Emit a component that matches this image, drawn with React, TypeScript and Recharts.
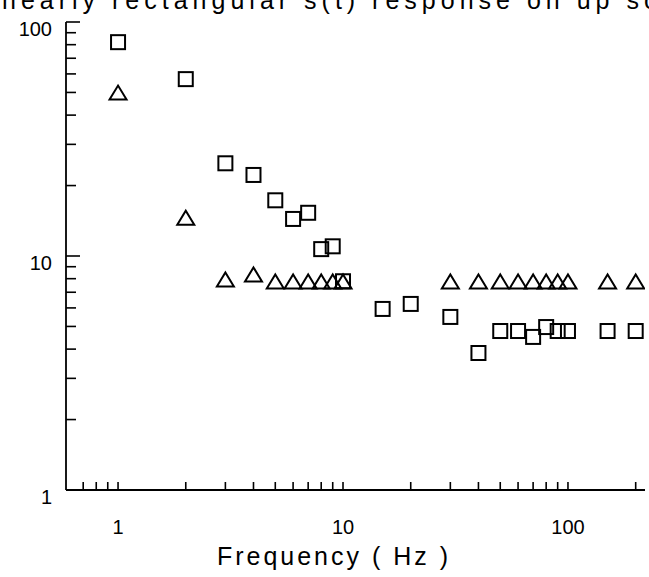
import React from 'react';
import { ScatterChart, Scatter, XAxis, YAxis } from 'recharts';

const FREQ_SQUARE = [1, 2, 3, 4, 5, 6, 7, 8, 9, 10, 15, 20, 30, 40, 50, 60, 70, 80, 90, 100, 150, 200];
const SQUARE_VALUES = [82, 57, 24.9, 22.2, 17.3, 14.4, 15.3, 10.7, 11.0, 7.8, 5.94, 6.24, 5.49, 3.85, 4.78, 4.78, 4.51, 4.97, 4.78, 4.78, 4.78, 4.78];

const FREQ_TRIANGLE = [1, 2, 3, 4, 5, 6, 7, 8, 9, 10, 30, 40, 50, 60, 70, 80, 90, 100, 150, 200];
const TRIANGLE_VALUES = [49.7, 14.5, 7.9, 8.3, 7.74, 7.74, 7.74, 7.74, 7.74, 7.74, 7.74, 7.74, 7.74, 7.74, 7.74, 7.74, 7.74, 7.74, 7.74, 7.74];

const X_TICKS = [0.7, 0.8, 0.9, 1, 2, 3, 4, 5, 6, 7, 8, 9, 10, 20, 30, 40, 50, 60, 70, 80, 90, 100, 200];
const Y_TICKS = [1, 2, 3, 4, 5, 6, 7, 8, 9, 10, 20, 30, 40, 50, 60, 70, 80, 90, 100];
const LABELED = [1, 10, 100];

const squares = FREQ_SQUARE.map((f, i) => ({ x: f, y: SQUARE_VALUES[i] }));
const triangles = FREQ_TRIANGLE.map((f, i) => ({ x: f, y: TRIANGLE_VALUES[i] }));

const FONT = '"Liberation Sans", Arial, sans-serif';

const XTick = (props: any) => {
  const { x, y, payload } = props;
  const v = payload.value;
  return (
    <g>
      <line x1={x} y1={y} x2={x} y2={y - 8} stroke="#000" strokeWidth={1.6} />
      {LABELED.includes(v) && (
        <text x={x} y={y + 44} textAnchor="middle" fontFamily={FONT} fontSize={20} fill="#000">
          {v}
        </text>
      )}
    </g>
  );
};

const YTick = (props: any) => {
  const { x, y, payload } = props;
  const v = payload.value;
  const major = LABELED.includes(v);
  return (
    <g>
      <line x1={x} y1={y} x2={x + (major ? 14 : 10)} y2={y} stroke="#000" strokeWidth={1.6} />
      {major && (
        <text x={x - 14} y={y + 14} textAnchor="end" fontFamily={FONT} fontSize={20} fill="#000">
          {v}
        </text>
      )}
    </g>
  );
};

const Square = (props: any) => {
  const { cx, cy } = props;
  return <rect x={cx - 7} y={cy - 7} width={14} height={14} fill="none" stroke="#000" strokeWidth={2} />;
};

const Triangle = (props: any) => {
  const { cx, cy } = props;
  const pts = `${cx - 8.5},${cy + 6.5} ${cx + 8.5},${cy + 6.5} ${cx},${cy - 7.5}`;
  return <polygon points={pts} fill="none" stroke="#000" strokeWidth={2} strokeLinejoin="miter" />;
};

export default function App() {
  return (
    <div style={{ position: 'absolute', left: 0, top: 0, width: 649, height: 577, background: '#fff', overflow: 'hidden' }}>
      <div
        style={{
          position: 'absolute',
          left: 2,
          top: -12,
          whiteSpace: 'nowrap',
          fontFamily: FONT,
          fontSize: 25,
          lineHeight: '24px',
          letterSpacing: 5,
          color: '#000',
        }}
      >
        nearly rectangular s(t) response on up so
      </div>
      <ScatterChart width={649} height={577} margin={{ top: 22, right: 4, bottom: 7, left: 6 }}>
        <XAxis
          type="number"
          dataKey="x"
          scale="log"
          domain={[0.587, 220]}
          allowDataOverflow
          ticks={X_TICKS}
          interval={0}
          tick={<XTick />}
          tickLine={false}
          tickSize={0}
          tickMargin={0}
          height={80}
          axisLine={{ stroke: '#000', strokeWidth: 1.8 }}
        />
        <YAxis
          type="number"
          dataKey="y"
          scale="log"
          domain={[1, 100]}
          allowDataOverflow
          ticks={Y_TICKS}
          interval={0}
          tick={<YTick />}
          tickLine={false}
          tickSize={0}
          tickMargin={0}
          width={60}
          axisLine={{ stroke: '#000', strokeWidth: 1.8 }}
        />
        <Scatter data={squares} shape={<Square />} isAnimationActive={false} />
        <Scatter data={triangles} shape={<Triangle />} isAnimationActive={false} />
      </ScatterChart>
      <div
        style={{
          position: 'absolute',
          left: 0,
          width: 668,
          top: 542,
          textAlign: 'center',
          fontFamily: FONT,
          fontSize: 25,
          letterSpacing: 3,
          color: '#000',
          whiteSpace: 'pre',
        }}
      >
        Frequency ( Hz )
      </div>
    </div>
  );
}
